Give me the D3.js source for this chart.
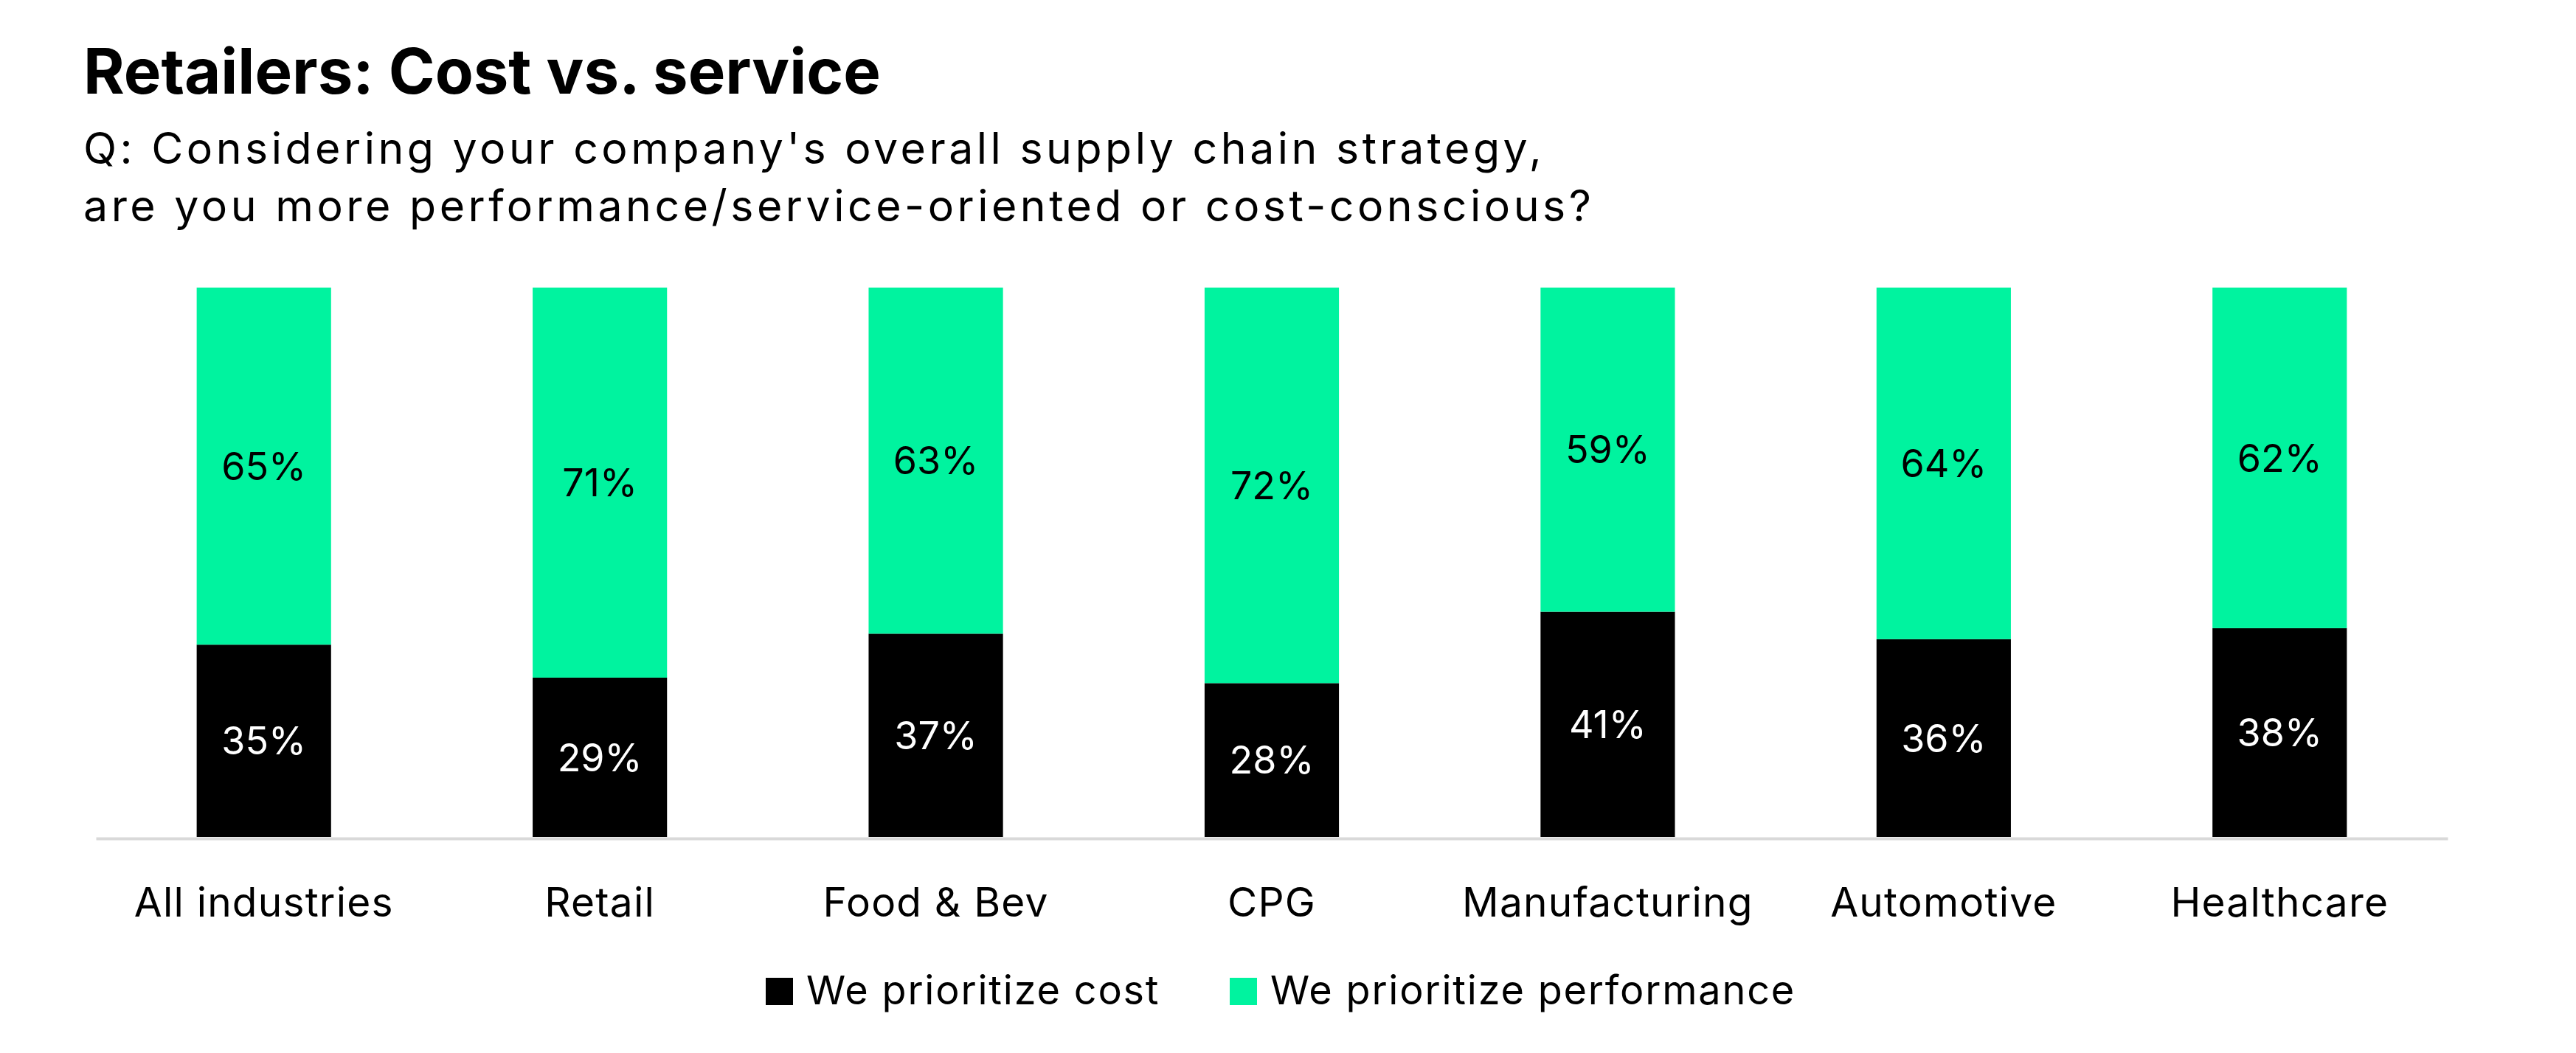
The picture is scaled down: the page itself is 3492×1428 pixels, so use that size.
<!DOCTYPE html>
<html>
<head>
<meta charset="utf-8">
<script src="https://cdn.jsdelivr.net/npm/d3@7"></script>
<style>
    body { margin: 0; background: #fff; }
    text { font-family: Inter, "Noto Sans", sans-serif; }
</style>
</head>
<body>
<div id="chart"></div>
<script>
const industries = ["All industries", "Retail", "Food & Bev", "CPG", "Manufacturing", "Automotive", "Healthcare"];
const costValues = [35, 29, 37, 28, 41, 36, 38];
const performanceValues = [65, 71, 63, 72, 59, 64, 62];
const seriesNames = ["We prioritize cost", "We prioritize performance"];
const seriesColors = ["#000000", "#00f39f"];

const width = 3492;
const height = 1428;

const margin = {
    left: 130,
    right: 174,
    top: 390,
    bottom: 293
}

const svg = d3.select("#chart")
            .append("svg")
            .attr("width", width)
            .attr("height", height);

svg.append("rect")
    .attr("width", width)
    .attr("height", height)
    .attr("fill", "#fff");

// title + question
svg.append("text")
    .attr("x", 113)
    .attr("y", 127)
    .attr("font-size", 85)
    .attr("font-weight", 700)
    .text("Retailers: Cost vs. service");

const questionLines = [
    "Q: Considering your company's overall supply chain strategy,",
    "are you more performance/service-oriented or cost-conscious?"
];
svg.selectAll(".question")
    .data(questionLines)
    .enter()
    .append("text")
    .attr("class", "question")
    .attr("x", 113)
    .attr("y", (d, i) => 222 + i * 78)
    .attr("font-size", 59)
    .attr("letter-spacing", 4.5)
    .text(d => d);

const rows = industries.map((name, i) => ({
    name: name,
    cost: costValues[i],
    performance: performanceValues[i]
}));

const stack = d3.stack().keys(["cost", "performance"]);
const layers = stack(rows);

const xScale = d3.scaleBand()
                .domain(industries)
                .range([margin.left, width - margin.right])
                .paddingInner(0.6)
                .paddingOuter(0.3);
const yScale = d3.scaleLinear()
                .domain([0, 100])
                .range([height - margin.bottom, margin.top]);

const groups = svg.selectAll(".layer")
                .data(layers)
                .enter()
                .append("g")
                .attr("class", "layer")
                .attr("fill", (d, i) => seriesColors[i]);

groups.selectAll("rect")
    .data(d => d)
    .enter()
    .append("rect")
    .attr("x", d => xScale(d.data.name))
    .attr("y", d => yScale(d[1]))
    .attr("width", xScale.bandwidth())
    .attr("height", d => yScale(d[0]) - yScale(d[1]));

groups.selectAll("text")
    .data(d => d)
    .enter()
    .append("text")
    .attr("x", d => xScale(d.data.name) + xScale.bandwidth() / 2)
    .attr("y", d => yScale((d[0] + d[1]) / 2))
    .attr("dy", "0.36em")
    .attr("text-anchor", "middle")
    .attr("font-size", 52)
    .attr("fill", (d, i, nodes) => nodes[i].parentNode.__data__.key === "cost" ? "#fff" : "#000")
    .text(d => (d[1] - d[0]) + "%");

// baseline axis
const xAxis = d3.axisBottom(xScale).tickSize(0).tickPadding(106);
const axisG = svg.append("g")
    .attr("transform", `translate(0, ${height - margin.bottom + 2})`)
    .call(xAxis);
axisG.select(".domain")
    .attr("stroke", "#d9d9d9")
    .attr("stroke-width", 4);
axisG.selectAll(".tick text")
    .attr("font-size", 55)
    .attr("letter-spacing", 1.2)
    .attr("fill", "#000")
    .attr("dy", 0)
    .style("font-family", "Inter, 'Noto Sans', sans-serif");

// legend
const legendX = [1038, 1667];
const legend = svg.selectAll(".legend")
                .data(seriesNames)
                .enter()
                .append("g")
                .attr("class", "legend")
                .attr("transform", (d, i) => `translate(${legendX[i]}, 1362)`);
legend.append("rect")
    .attr("x", 0)
    .attr("y", -36)
    .attr("width", 37)
    .attr("height", 37)
    .attr("fill", (d, i) => seriesColors[i]);
legend.append("text")
    .attr("x", 55)
    .attr("y", 0)
    .attr("font-size", 54)
    .attr("letter-spacing", 1.8)
    .text(d => d);
</script>
</body>
</html>
